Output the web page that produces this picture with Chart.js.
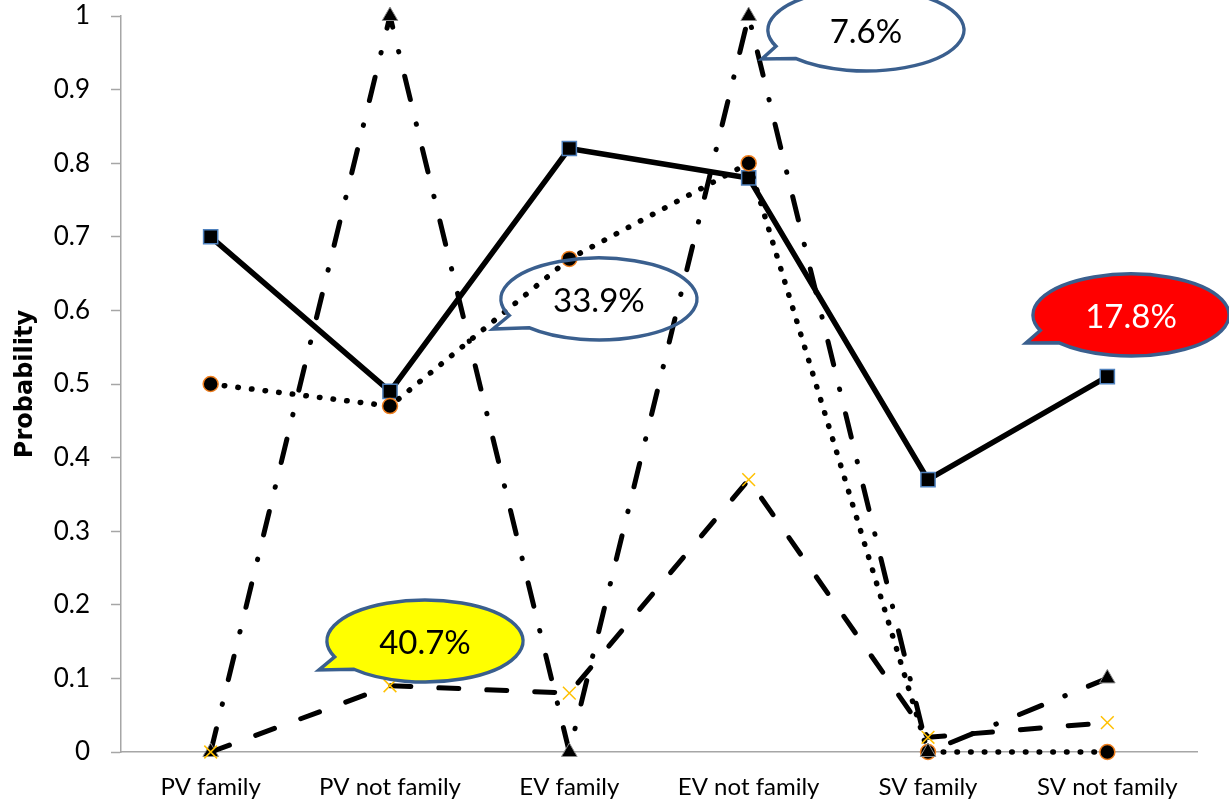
<!DOCTYPE html>
<html>
<head>
<meta charset="utf-8">
<script src="https://cdn.jsdelivr.net/npm/chart.js@4.4.1/dist/chart.umd.min.js"></script>
<style>
  html, body { margin: 0; padding: 0; background: #ffffff; }
  #wrap { width: 1229px; height: 808px; position: relative; }
</style>
</head>
<body>
<div id="wrap"><canvas id="c"></canvas></div>
<script>
// ---- data ----
const categories = ['PV family', 'PV not family', 'EV family', 'EV not family', 'SV family', 'SV not family'];
const solidSquares     = [0.70, 0.49, 0.82, 0.78, 0.37, 0.51];
const dottedCircles    = [0.50, 0.47, 0.67, 0.80, 0.00, 0.00];
const dashDotTriangles = [0.00, 1.00, 0.00, 1.00, 0.00, 0.10];
const dashedCrosses    = [0.00, 0.09, 0.08, 0.37, 0.02, 0.04];
const yTickValues = [0, 0.1, 0.2, 0.3, 0.4, 0.5, 0.6, 0.7, 0.8, 0.9, 1];
const yTitle = 'Probability';

// callout annotations (anchored in category-index / value units)
const calloutTexts = ['7.6%', '33.9%', '17.8%', '40.7%'];
const calloutCenters = [[3.654, 0.981], [2.165, 0.6155], [5.132, 0.5938], [1.195, 0.1508]];
const calloutTips    = [[3.074, 0.9416], [1.574, 0.5747], [4.546, 0.5557], [0.604, 0.1114]];
const calloutFills   = [null, null, '#FF0000', '#FFFF00'];
const calloutTextColors = ['#000000', '#000000', '#FFFFFF', '#000000'];

const calloutPlugin = {
  id: 'callouts',
  afterDatasetsDraw(chart) {
    const { ctx, scales: { x, y } } = chart;
    const rx = 98, ry = 41, d = 0.18;
    calloutTexts.forEach((txt, i) => {
      const cx = x.getPixelForValue(calloutCenters[i][0]);
      const cy = y.getPixelForValue(calloutCenters[i][1]);
      const tx = x.getPixelForValue(calloutTips[i][0]);
      const ty = y.getPixelForValue(calloutTips[i][1]);
      const t0 = Math.atan2((ty - cy) / ry, (tx - cx) / rx);
      ctx.save();
      ctx.beginPath();
      ctx.ellipse(cx, cy, rx, ry, 0, t0 + d, t0 - d + 2 * Math.PI);
      ctx.lineTo(tx, ty);
      ctx.closePath();
      if (calloutFills[i]) { ctx.fillStyle = calloutFills[i]; ctx.fill(); }
      ctx.lineWidth = 3.5;
      ctx.strokeStyle = '#3A5F8E';
      ctx.lineJoin = 'miter';
      ctx.stroke();
      ctx.fillStyle = calloutTextColors[i];
      ctx.font = '33px Lato, "Open Sans", sans-serif';
      ctx.textAlign = 'center';
      ctx.textBaseline = 'middle';
      ctx.fillText(txt, cx, cy + 2);
      ctx.restore();
    });
  }
};

const ctx = document.getElementById('c').getContext('2d');
new Chart(ctx, {
  type: 'line',
  data: {
    labels: categories,
    datasets: [
      {
        label: 'Series 1',
        data: solidSquares,
        order: 4,
        borderColor: '#000000',
        borderWidth: 5.5,
        borderJoinStyle: 'round',
        tension: 0,
        fill: false,
        clip: false,
        pointStyle: 'rect',
        pointRadius: 10,
        pointBackgroundColor: '#000000',
        pointBorderColor: '#4F81BD',
        pointBorderWidth: 1.5
      },
      {
        label: 'Series 2',
        data: dottedCircles,
        order: 3,
        borderColor: '#000000',
        borderWidth: 5.5,
        borderDash: [0.5, 13.2],
        borderCapStyle: 'round',
        borderJoinStyle: 'round',
        tension: 0,
        fill: false,
        clip: false,
        pointStyle: 'circle',
        pointRadius: 7.5,
        pointBackgroundColor: '#000000',
        pointBorderColor: '#F07F1E',
        pointBorderWidth: 1.5
      },
      {
        label: 'Series 3',
        data: dashDotTriangles,
        order: 2,
        borderColor: '#000000',
        borderWidth: 5,
        borderDash: [24, 25, 0.5, 25],
        borderCapStyle: 'round',
        borderJoinStyle: 'round',
        tension: 0,
        fill: false,
        clip: false,
        pointStyle: 'triangle',
        pointRadius: 9,
        pointBackgroundColor: '#000000',
        pointBorderColor: '#8C8C8C',
        pointBorderWidth: 1
      },
      {
        label: 'Series 4',
        data: dashedCrosses,
        order: 1,
        borderColor: '#000000',
        borderWidth: 5,
        borderDash: [20, 28],
        borderCapStyle: 'round',
        borderJoinStyle: 'round',
        tension: 0,
        fill: false,
        clip: false,
        pointStyle: 'crossRot',
        pointRadius: 9,
        pointBackgroundColor: '#FFC000',
        pointBorderColor: '#FFC000',
        pointBorderWidth: 1.5
      }
    ]
  },
  options: {
    responsive: true,
    maintainAspectRatio: false,
    animation: false,
    layout: { padding: { top: 16, right: 32, left: 0, bottom: 0 } },
    plugins: {
      legend: { display: false },
      tooltip: { enabled: false },
      title: { display: false }
    },
    scales: {
      x: {
        type: 'category',
        offset: true,
        grid: { display: false, drawTicks: false },
        border: { display: true, color: '#A6A6A6', width: 1.5 },
        ticks: {
          color: '#000000',
          font: { family: 'Lato, "Open Sans", sans-serif', size: 24 },
          padding: 21,
          maxRotation: 0,
          autoSkip: false
        },
        afterFit(scale) { scale.height = 56; scale.paddingLeft = 0; scale.paddingRight = 0; }
      },
      y: {
        type: 'linear',
        min: 0,
        max: 1,
        afterBuildTicks(scale) { scale.ticks = yTickValues.map(v => ({ value: v })); },
        grid: {
          display: true,
          drawOnChartArea: false,
          drawTicks: true,
          tickLength: 10,
          tickColor: '#A6A6A6',
          tickWidth: 1.5
        },
        border: { display: true, color: '#A6A6A6', width: 1.5 },
        ticks: {
          color: '#000000',
          font: { family: 'Lato, "Open Sans", sans-serif', size: 26 },
          padding: 21,
          callback: (v) => String(Math.round(v * 10) / 10)
        },
        title: {
          display: true,
          text: yTitle,
          color: '#000000',
          font: { family: '"DejaVu Sans", sans-serif', size: 24, weight: 'bold' },
          padding: { top: 11, bottom: 0 }
        },
        afterFit(scale) { scale.width = 121; scale.paddingTop = 0; scale.paddingBottom = 0; }
      }
    }
  },
  plugins: [calloutPlugin]
});
</script>
</body>
</html>
